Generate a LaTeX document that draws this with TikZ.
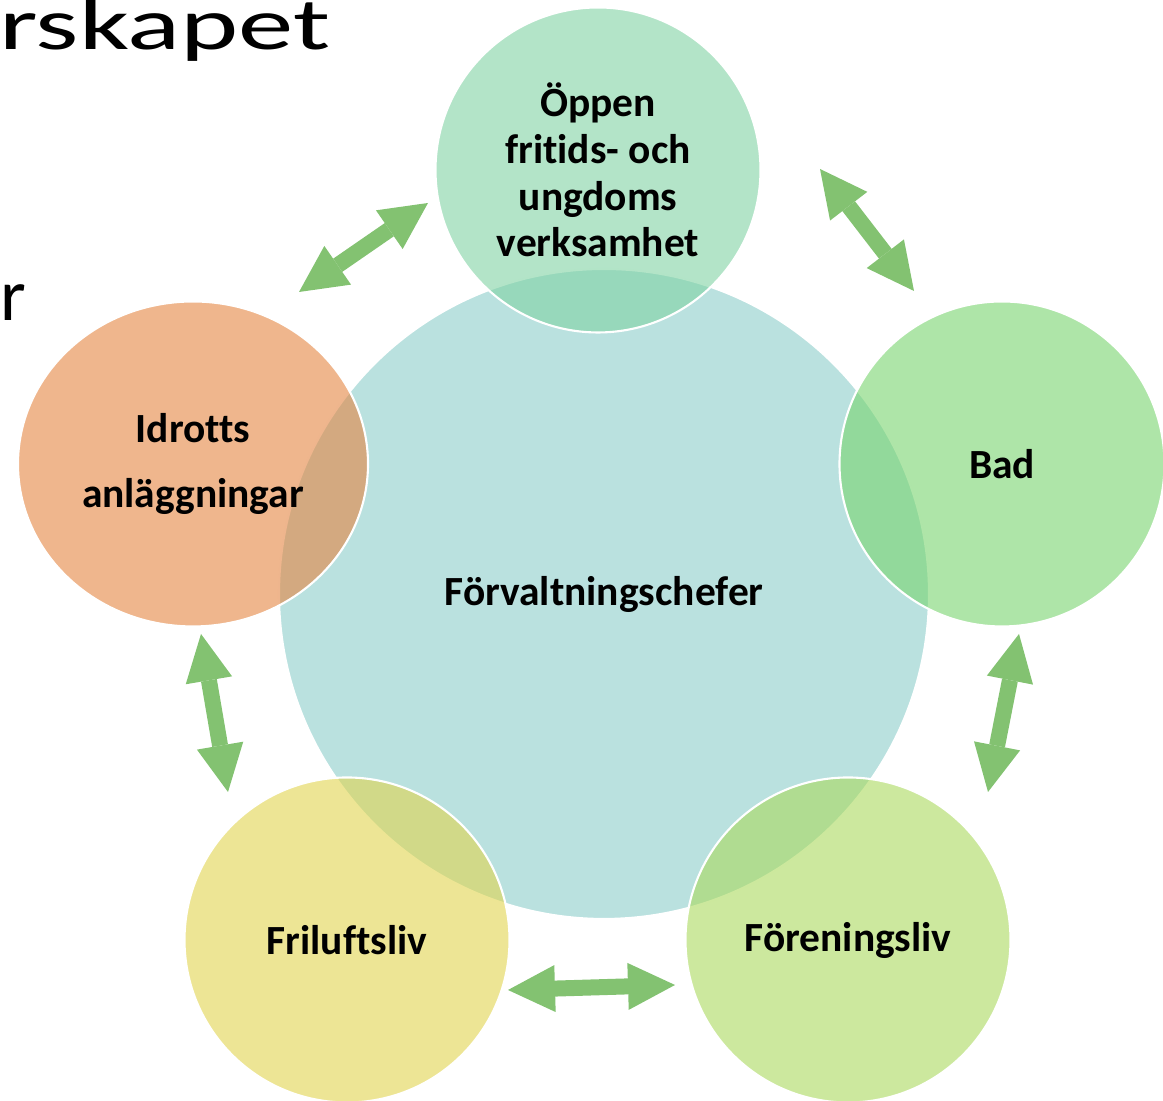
\documentclass[tikz,border=0pt]{standalone}
\usepackage{fontspec}
\setmainfont{Carlito}[Ligatures=NoCommon]
\usepackage{xcolor}
\usepackage{tikz}
\usetikzlibrary{arrows.meta, shapes.geometric}
\definecolor{custom_teal}{HTML}{BAE1DF}
\definecolor{custom_mint}{HTML}{80D2A3}
\definecolor{custom_green}{HTML}{78D46E}
\definecolor{custom_orange}{HTML}{E48541}
\definecolor{custom_yellow}{HTML}{E1D44E}
\definecolor{custom_lime}{HTML}{AAD95D}
\definecolor{custom_arrow}{HTML}{83C271}

\begin{document}
\begin{tikzpicture}[every node/.style={font=\fontsize{11.8}{13.3}\selectfont\bfseries},
  part/.style={circle, draw=white, line width=0.6pt, fill opacity=0.6, text opacity=1,
    minimum size=3.25cm, inner sep=0pt, align=center},
  link/.style={custom_arrow, line width=0.16cm,
    {Triangle[width=0.47cm,length=0.47cm,line width=0pt]}-{Triangle[width=0.47cm,length=0.47cm,line width=0pt]}}]

  \useasboundingbox (0,0) rectangle (11.63,11.01);
  \clip (0,0) rectangle (11.63,11.01);

  % slide text behind the diagram
  \node[anchor=base west, inner sep=0pt, xscale=1.5, font=\fontsize{21}{25}\selectfont] (title) at (-0.02,10.51) {rskapet};
  \node[anchor=base west, inner sep=0pt, font=\fontsize{21}{25}\selectfont] (bullet) at (0,7.80) {r};

  % middle
  \node[circle, draw=white, line width=0.6pt, fill=custom_teal, minimum size=6.5cm] (chef) at (6.04,5.07) {Förvaltningschefer};

  % ring
  \node[part, fill=custom_mint] (oppen) at (5.98,9.31) {Öppen\\fritids- och\\ungdoms\\verksamhet};
  \node[part, fill=custom_green] (bad) at (10.02,6.37) {Bad};
  \node[part, ellipse, fill=custom_orange, minimum width=3.5cm, minimum height=3.25cm,
    font=\fontsize{11.8}{18.5}\selectfont\bfseries] (idrott) at (1.93,6.37) {Idrotts\\anläggningar};
  \node[part, fill=custom_yellow] (friluft) at (3.47,1.61) {Friluftsliv};
  \node[part, fill=custom_lime] (forening) at (8.48,1.61) {Föreningsliv};

  % arrows
  \coordinate (a1) at (2.99,8.09);  \coordinate (b1) at (4.28,8.98);
  \coordinate (a2) at (8.20,9.32);  \coordinate (b2) at (9.14,8.10);
  \coordinate (a3) at (10.19,4.67); \coordinate (b3) at (9.88,3.09);
  \coordinate (a4) at (5.08,1.11);  \coordinate (b4) at (6.75,1.16);
  \coordinate (a5) at (2.01,4.67);  \coordinate (b5) at (2.28,3.09);

  \draw[link] (a1) -- (b1);
  \draw[link] (a2) -- (b2);
  \draw[link] (a3) -- (b3);
  \draw[link] (a4) -- (b4);
  \draw[link] (a5) -- (b5);

\end{tikzpicture}
\end{document}
